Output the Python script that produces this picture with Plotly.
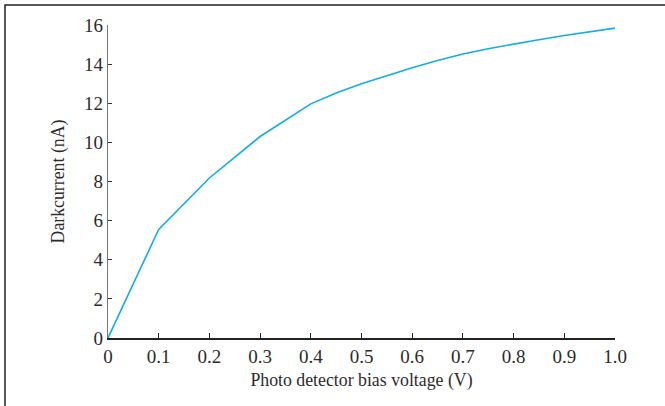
import plotly.graph_objects as go

voltage = [0.0, 0.1, 0.2, 0.3, 0.4, 0.45, 0.5, 0.55, 0.6, 0.65, 0.7, 0.75, 0.8, 0.85, 0.9, 0.95, 1.0]
dark_current = [0.0, 5.55, 8.18, 10.3, 11.97, 12.52, 13.0, 13.42, 13.82, 14.18, 14.52, 14.79, 15.03, 15.25, 15.46, 15.66, 15.84]

x_ticks = [0, 0.1, 0.2, 0.3, 0.4, 0.5, 0.6, 0.7, 0.8, 0.9, 1.0]
x_ticktext = ["0", "0.1", "0.2", "0.3", "0.4", "0.5", "0.6", "0.7", "0.8", "0.9", "1.0"]
y_ticks = [0, 2, 4, 6, 8, 10, 12, 14, 16]

W, H = 665, 406
L, R, T, B = 108, 50, 25, 68
pw, ph = W - L - R, H - T - B

fig = go.Figure()
fig.add_trace(go.Scatter(x=voltage, y=dark_current, mode="lines",
                         line=dict(color="#12ACE6", width=1.6), showlegend=False))

font = dict(family="Liberation Serif, Times New Roman, serif", color="#2b2b2b")

fig.update_layout(
    width=W, height=H,
    margin=dict(l=L, r=R, t=T, b=B),
    paper_bgcolor="white", plot_bgcolor="white",
    font=dict(**font, size=19),
    xaxis=dict(range=[0, 1.0], tickvals=x_ticks, ticktext=x_ticktext,
               showgrid=False, zeroline=False, showline=True, linecolor="#222",
               linewidth=1.5, ticks="inside", ticklen=5, tickcolor="#222", tickwidth=1,
               tickfont=dict(**font, size=19),
               title=dict(text="Photo detector bias voltage (V)", font=dict(**font, size=17.8), standoff=8)),
    yaxis=dict(range=[0, 16], tickvals=y_ticks,
               showgrid=False, zeroline=False, showline=True, linecolor="#777",
               linewidth=1.2, ticks="inside", ticklen=4, tickcolor="#333", tickwidth=1,
               tickfont=dict(**font, size=19),
               title=dict(text="Darkcurrent (nA)", font=dict(**font, size=17.8), standoff=14)),
)

# outer frame (left and top edges of the figure border)
fig.add_shape(type="rect", xref="paper", yref="paper",
              x0=(5 - L) / pw, x1=2.0, y0=-1.0, y1=(H - B - 5) / ph,
              line=dict(color="#222", width=1.5), fillcolor="rgba(0,0,0,0)", layer="below")

fig.write_html("out.html")
